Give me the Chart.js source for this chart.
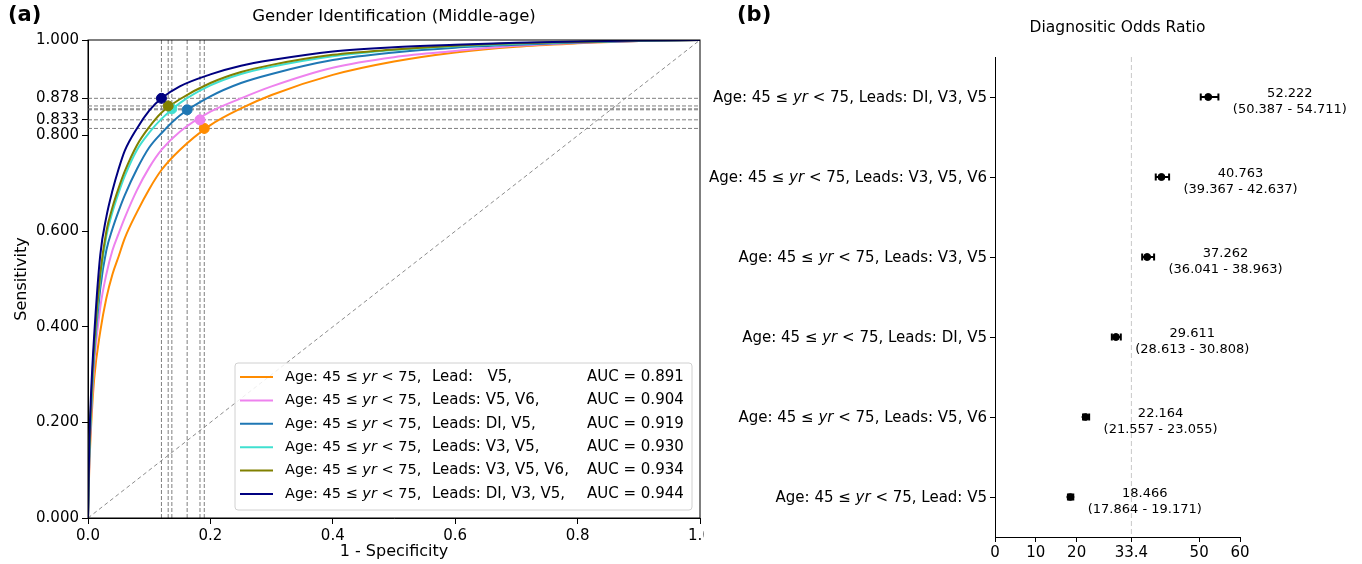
<!DOCTYPE html>
<html>
<head>
<meta charset="utf-8">
<script src="https://cdn.jsdelivr.net/npm/chart.js@4/dist/chart.umd.min.js"></script>
<style>
  html, body { margin: 0; padding: 0; background: #fff; }
  body { width: 1362px; height: 564px; position: relative; overflow: hidden; font-family: "DejaVu Sans", sans-serif; }
  #wrapA { position: absolute; left: 0; top: 0; width: 704px; height: 564px; }
  #wrapB { position: absolute; left: 705px; top: 0; width: 657px; height: 564px; }
  .tag { position: absolute; top: 2px; font-weight: bold; font-size: 21px; z-index: 2; }
</style>
</head>
<body>
<div id="wrapA"><canvas id="roc"></canvas></div>
<div id="wrapB"><canvas id="dor"></canvas></div>
<div class="tag" style="left:8px">(a)</div>
<div class="tag" style="left:737px">(b)</div>
<script>
(() => {
  'use strict'
  // ---- panel (a) : ROC curves ----
  const fpr = [0, 0.002, 0.005, 0.01, 0.02, 0.03, 0.04, 0.05, 0.06, 0.08, 0.1, 0.12, 0.15, 0.2, 0.25, 0.3, 0.4, 0.5, 0.6, 0.7, 0.8, 0.9, 1];
  const tprLeadV5   = [0, 0.10, 0.19, 0.29, 0.39, 0.46, 0.51, 0.547, 0.585, 0.64, 0.688, 0.728, 0.77, 0.822, 0.857, 0.885, 0.927, 0.955, 0.974, 0.986, 0.993, 0.998, 1];
  const tprV5V6     = [0, 0.11, 0.21, 0.32, 0.44, 0.51, 0.56, 0.595, 0.628, 0.686, 0.733, 0.77, 0.808, 0.85, 0.878, 0.903, 0.942, 0.964, 0.977, 0.988, 0.994, 0.998, 1];
  const tprDIV5     = [0, 0.12, 0.22, 0.34, 0.48, 0.56, 0.605, 0.642, 0.675, 0.73, 0.775, 0.805, 0.842, 0.882, 0.91, 0.929, 0.958, 0.974, 0.984, 0.99, 0.995, 0.998, 1];
  const tprV3V5     = [0, 0.13, 0.23, 0.35, 0.50, 0.59, 0.64, 0.68, 0.715, 0.77, 0.806, 0.835, 0.868, 0.905, 0.929, 0.944, 0.966, 0.979, 0.987, 0.992, 0.996, 0.999, 1];
  const tprV3V5V6   = [0, 0.14, 0.24, 0.36, 0.51, 0.60, 0.65, 0.69, 0.725, 0.78, 0.818, 0.848, 0.876, 0.91, 0.933, 0.948, 0.969, 0.98, 0.988, 0.993, 0.996, 0.999, 1];
  const tprDIV3V5   = [0, 0.15, 0.26, 0.38, 0.55, 0.63, 0.685, 0.73, 0.768, 0.815, 0.852, 0.878, 0.903, 0.928, 0.946, 0.958, 0.976, 0.985, 0.99, 0.994, 0.997, 0.999, 1];

  const rocLeads = ['Lead:   V5,', 'Leads: V5, V6,', 'Leads: DI, V5,', 'Leads: V3, V5,', 'Leads: V3, V5, V6,', 'Leads: DI, V3, V5,'];
  const rocAuc = [0.891, 0.904, 0.919, 0.930, 0.934, 0.944];
  // optimal operating points
  const opFpr = [0.190, 0.183, 0.162, 0.137, 0.131, 0.120];
  const opTpr = [0.815, 0.833, 0.854, 0.856, 0.862, 0.878];

  const rocXTicks = [0, 0.2, 0.4, 0.6, 0.8, 1.0];
  const rocYTicks = [0, 0.2, 0.4, 0.6, 0.8, 0.833, 0.878, 1.0];

  // ---- panel (b) : diagnostic odds ratio ----
  const dorLeads = ['Leads: DI, V3, V5', 'Leads: V3, V5, V6', 'Leads: V3, V5', 'Leads: DI, V5', 'Leads: V5, V6', 'Lead: V5'];
  const dorValue = [52.222, 40.763, 37.262, 29.611, 22.164, 18.466];
  const dorLow   = [50.387, 39.367, 36.041, 28.613, 21.557, 17.864];
  const dorHigh  = [54.711, 42.637, 38.963, 30.808, 23.055, 19.171];
  const dorRef = 33.4;
  const dorXTicks = [0, 10, 20, 33.4, 50, 60];

  const tprs = [tprLeadV5, tprV5V6, tprDIV5, tprV3V5, tprV3V5V6, tprDIV3V5];
  const colors = ['#ff8c00', '#ee82ee', '#1f77b4', '#40e0d0', '#808000', '#000080'];
  const FONT = '"DejaVu Sans", sans-serif';

  // text with an italic "yr" in it
  const agePart = [['Age: 45 \u2264 ', false], ['yr', true], [' < 75,', false]];
  const drawRich = (ctx, parts, x, y, align, size) => {
    let w = 0;
    parts.forEach(p => { ctx.font = (p[1] ? 'italic ' : '') + size + 'px ' + FONT; w += ctx.measureText(p[0]).width; });
    let cx = align === 'right' ? x - w : (align === 'center' ? x - w / 2 : x);
    ctx.textAlign = 'left';
    ctx.textBaseline = 'middle';
    parts.forEach(p => {
      ctx.font = (p[1] ? 'italic ' : '') + size + 'px ' + FONT;
      ctx.fillText(p[0], cx, y);
      cx += ctx.measureText(p[0]).width;
    });
  };

  const frameA = {
    id: 'frameA',
    afterDraw(chart) {
      const {ctx, chartArea: a} = chart;
      ctx.save();
      ctx.strokeStyle = '#000';
      ctx.lineWidth = 1;
      ctx.strokeRect(a.left, a.top, a.right - a.left, a.bottom - a.top);
      ctx.fillStyle = '#000';
      ctx.font = '16.5px ' + FONT;
      ctx.textAlign = 'center';
      ctx.textBaseline = 'middle';
      ctx.fillText('Gender Identification (Middle-age)', (a.left + a.right) / 2, 17);
      // legend, lower right
      const bw = 457, bh = 147;
      const bx = a.right - 8 - bw, by = a.bottom - 8 - bh;
      ctx.beginPath();
      const r = 3;
      ctx.moveTo(bx + r, by);
      ctx.arcTo(bx + bw, by, bx + bw, by + bh, r);
      ctx.arcTo(bx + bw, by + bh, bx, by + bh, r);
      ctx.arcTo(bx, by + bh, bx, by, r);
      ctx.arcTo(bx, by, bx + bw, by, r);
      ctx.closePath();
      ctx.fillStyle = 'rgba(255,255,255,0.85)';
      ctx.fill();
      ctx.strokeStyle = '#d0d0d0';
      ctx.stroke();
      rocLeads.forEach((lead, i) => {
        const y = by + 14 + i * 23.4;
        ctx.strokeStyle = colors[i];
        ctx.lineWidth = 2;
        ctx.beginPath();
        ctx.moveTo(bx + 5, y);
        ctx.lineTo(bx + 38, y);
        ctx.stroke();
        ctx.fillStyle = '#000';
        drawRich(ctx, agePart, bx + 50, y, 'left', 14.5);
        ctx.font = '15px ' + FONT;
        ctx.fillText(lead, bx + 197, y);
        ctx.fillText('AUC = ' + rocAuc[i].toFixed(3), bx + 352, y);
      });
      ctx.restore();
    }
  };

  const rocSets = [];
  tprs.forEach((t, i) => {
    rocSets.push({
      data: fpr.map((x, j) => ({x: x, y: t[j]})),
      showLine: true, borderColor: colors[i], borderWidth: 2,
      pointRadius: 0, cubicInterpolationMode: 'monotone', order: 20 - i
    });
  });
  tprs.forEach((t, i) => {
    rocSets.push({
      data: [{x: opFpr[i], y: 0}, {x: opFpr[i], y: 1}],
      showLine: true, borderColor: '#7f7f7f', borderWidth: 1, borderDash: [4, 2], pointRadius: 0, order: 30
    });
    rocSets.push({
      data: [{x: 0, y: opTpr[i]}, {x: 1, y: opTpr[i]}],
      showLine: true, borderColor: '#7f7f7f', borderWidth: 1, borderDash: [4, 2], pointRadius: 0, order: 30
    });
    rocSets.push({
      data: [{x: opFpr[i], y: opTpr[i]}],
      pointRadius: 5, pointBackgroundColor: colors[i], pointBorderColor: colors[i], order: 10 - i
    });
  });
  rocSets.push({
    data: [{x: 0, y: 0}, {x: 1, y: 1}],
    showLine: true, borderColor: '#8c8c8c', borderWidth: 1, borderDash: [4, 3], pointRadius: 0, order: 40
  });

  const axisCommon = (ticks, fmt) => ({
    type: 'linear', min: 0, max: 1,
    afterBuildTicks: s => { s.ticks = ticks.map(v => ({value: v})); },
    ticks: {callback: fmt, color: '#000', font: {family: FONT, size: 15}, padding: 3, maxRotation: 0, autoSkip: false},
    grid: {drawOnChartArea: false, drawTicks: true, tickLength: 6, color: '#000'},
    border: {color: '#000', width: 1}
  });

  const xA = axisCommon(rocXTicks, v => v.toFixed(1));
  xA.title = {display: true, text: '1 - Specificity', color: '#000', font: {family: FONT, size: 16}, padding: {top: 0, bottom: 3}};
  xA.afterFit = s => { s.height = 46; s.paddingLeft = 0; s.paddingRight = 0; };
  const yA = axisCommon(rocYTicks, v => v.toFixed(3));
  yA.title = {display: true, text: 'Sensitivity', color: '#000', font: {family: FONT, size: 16}, padding: {top: 12, bottom: 0}};
  yA.afterFit = s => { s.width = 88; s.paddingTop = 0; s.paddingBottom = 0; };

  new Chart(document.getElementById('roc'), {
    type: 'scatter',
    data: {datasets: rocSets},
    options: {
      responsive: true, maintainAspectRatio: false, animation: false,
      layout: {autoPadding: false, padding: {top: 40, right: 4, left: 0, bottom: 0}},
      plugins: {legend: {display: false}, tooltip: {enabled: false}},
      scales: {x: xA, y: yA}
    },
    plugins: [frameA]
  });

  // ---- panel (b) ----
  const dorPlugin = {
    id: 'dorPlugin',
    beforeDatasetsDraw(chart) {
      const {ctx, scales: {x, y}} = chart;
      ctx.save();
      ctx.strokeStyle = '#000';
      ctx.lineWidth = 2;
      dorValue.forEach((v, i) => {
        const py = y.getPixelForValue(i);
        const x0 = x.getPixelForValue(dorLow[i]), x1 = x.getPixelForValue(dorHigh[i]);
        ctx.beginPath();
        ctx.moveTo(x0, py); ctx.lineTo(x1, py);
        ctx.moveTo(x0, py - 3.5); ctx.lineTo(x0, py + 3.5);
        ctx.moveTo(x1, py - 3.5); ctx.lineTo(x1, py + 3.5);
        ctx.stroke();
      });
      ctx.restore();
    },
    afterDraw(chart) {
      const {ctx, chartArea: a, scales: {x, y}} = chart;
      ctx.save();
      ctx.fillStyle = '#000';
      ctx.font = '15.5px ' + FONT;
      ctx.textAlign = 'center';
      ctx.textBaseline = 'middle';
      ctx.fillText('Diagnositic Odds Ratio', (a.left + a.right) / 2, 28);
      dorValue.forEach((v, i) => {
        const py = y.getPixelForValue(i);
        drawRich(ctx, agePart.concat([[' ' + dorLeads[i], false]]), a.left - 8, py + 1, 'right', 15);
        const tx = x.getPixelForValue(dorHigh[i] + 17.5);
        ctx.font = '13px ' + FONT;
        ctx.textAlign = 'center';
        ctx.fillText(v.toFixed(3), tx, py - 3.5);
        ctx.fillText('(' + dorLow[i].toFixed(3) + ' - ' + dorHigh[i].toFixed(3) + ')', tx, py + 13);
      });
      ctx.restore();
    }
  };

  new Chart(document.getElementById('dor'), {
    type: 'scatter',
    data: {
      datasets: [{
        data: dorValue.map((v, i) => ({x: v, y: i})),
        pointRadius: 3.5, pointBackgroundColor: '#000', pointBorderColor: '#000', order: 1
      }, {
        data: [{x: dorRef, y: -0.5}, {x: dorRef, y: 5.5}],
        showLine: true, borderColor: '#c8c8c8', borderWidth: 1, borderDash: [5, 3], pointRadius: 0, order: 2
      }]
    },
    options: {
      responsive: true, maintainAspectRatio: false, animation: false,
      layout: {autoPadding: false, padding: {top: 57, right: 122, left: 0, bottom: 0}},
      plugins: {legend: {display: false}, tooltip: {enabled: false}},
      scales: {
        x: {
          type: 'linear', min: 0, max: 60,
          afterBuildTicks: s => { s.ticks = dorXTicks.map(v => ({value: v})); },
          afterFit: s => { s.height = 27; s.paddingLeft = 0; s.paddingRight = 0; },
          ticks: {callback: v => String(v), color: '#000', font: {family: FONT, size: 15}, padding: 2, maxRotation: 0, autoSkip: false},
          grid: {drawOnChartArea: false, drawTicks: true, tickLength: 5, color: '#000'},
          border: {color: '#000', width: 1}
        },
        y: {
          type: 'linear', min: -0.5, max: 5.5, reverse: true,
          afterBuildTicks: s => { s.ticks = dorValue.map((v, i) => ({value: i})); },
          afterFit: s => { s.width = 290; s.paddingTop = 0; s.paddingBottom = 0; },
          ticks: {display: false},
          grid: {drawOnChartArea: false, drawTicks: true, tickLength: 5, color: '#000'},
          border: {color: '#000', width: 1}
        }
      }
    },
    plugins: [dorPlugin]
  });
})();
</script>
</body>
</html>
